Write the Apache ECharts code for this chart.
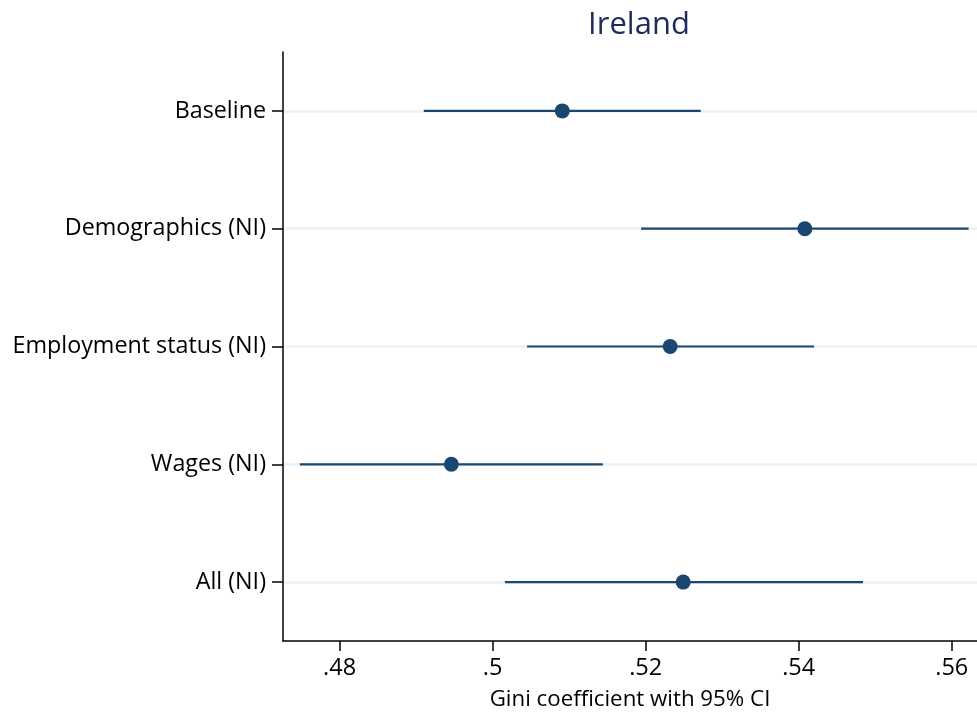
<!DOCTYPE html>
<html>
<head>
<meta charset="utf-8">
<script src="https://cdn.jsdelivr.net/npm/echarts@6/dist/echarts.min.js"></script>
<style>
html,body{margin:0;padding:0;background:#fff;}
#chart{width:977px;height:712px;}
</style>
</head>
<body>
<div id="chart"></div>
<script>
var categories = ['Baseline', 'Demographics (NI)', 'Employment status (NI)', 'Wages (NI)', 'All (NI)'];
var estimates = [0.5091, 0.5408, 0.5232, 0.4946, 0.5249];
var ciLower = [0.4910, 0.5194, 0.5045, 0.4748, 0.5016];
var ciUpper = [0.5272, 0.5622, 0.5420, 0.5144, 0.5484];
var xTicks = [0.48, 0.50, 0.52, 0.54, 0.56];
var titleText = 'Ireland';
var xAxisTitle = 'Gini coefficient with 95% CI';

var NAVY = '#1a476f';
var FONT = 'Open Sans';

var ciData = categories.map(function (c, i) { return [ciLower[i], ciUpper[i], c]; });
var pointData = categories.map(function (c, i) { return [estimates[i], c]; });

var chart = echarts.init(document.getElementById('chart'), null, {renderer: 'canvas'});
chart.setOption({
  animation: false,
  backgroundColor: '#ffffff',
  title: {
    text: titleText,
    left: 634,
    textAlign: 'center',
    top: 5,
    textStyle: {fontFamily: FONT, fontSize: 31, fontWeight: 'normal', color: '#1a2d5c'}
  },
  grid: {left: 283, right: 0, top: 52, bottom: 71, containLabel: false, outerBoundsMode: 'none'},
  xAxis: {
    type: 'value',
    min: 0.4726,
    max: 0.5633,
    name: xAxisTitle,
    nameLocation: 'middle',
    nameGap: 48,
    nameTextStyle: {fontFamily: FONT, fontSize: 22.3, color: '#000'},
    axisLine: {show: true, lineStyle: {color: '#000', width: 1.5}},
    axisTick: {show: true, length: 10, customValues: xTicks, lineStyle: {color: '#000', width: 1.5}},
    axisLabel: {
      customValues: xTicks,
      margin: 15,
      fontFamily: FONT, fontSize: 23.5, color: '#000',
      formatter: function (v) { return String(+v.toFixed(2)).replace(/^0/, ''); }
    },
    splitLine: {show: false}
  },
  yAxis: {
    type: 'category',
    data: categories,
    inverse: true,
    axisLine: {show: true, lineStyle: {color: '#000', width: 1.5}},
    axisTick: {show: true, length: 11, alignWithLabel: true, lineStyle: {color: '#000', width: 1.5}},
    axisLabel: {margin: 17, fontFamily: FONT, fontSize: 23.3, color: '#000'},
    splitLine: {show: false}
  },
  series: [
    {
      type: 'line',
      data: [],
      silent: true,
      z: 1,
      markLine: {
        silent: true,
        z: 0,
        symbol: ['none', 'none'],
        label: {show: false},
        lineStyle: {color: '#eaf2f3', width: 2.5, type: 'solid'},
        data: categories.map(function (c) { return {yAxis: c}; })
      }
    },
    {
      type: 'custom',
      z: 6,
      silent: true,
      data: ciData,
      encode: {x: [0, 1], y: 2},
      renderItem: function (params, api) {
        var a = api.coord([api.value(0), api.value(2)]);
        var b = api.coord([api.value(1), api.value(2)]);
        return {
          type: 'line',
          shape: {x1: a[0], y1: a[1], x2: b[0], y2: b[1]},
          style: {stroke: NAVY, lineWidth: 2.2}
        };
      }
    },
    {
      type: 'scatter',
      z: 7,
      data: pointData,
      symbol: 'circle',
      symbolSize: 15,
      itemStyle: {color: NAVY, opacity: 1}
    }
  ]
});
</script>
</body>
</html>
